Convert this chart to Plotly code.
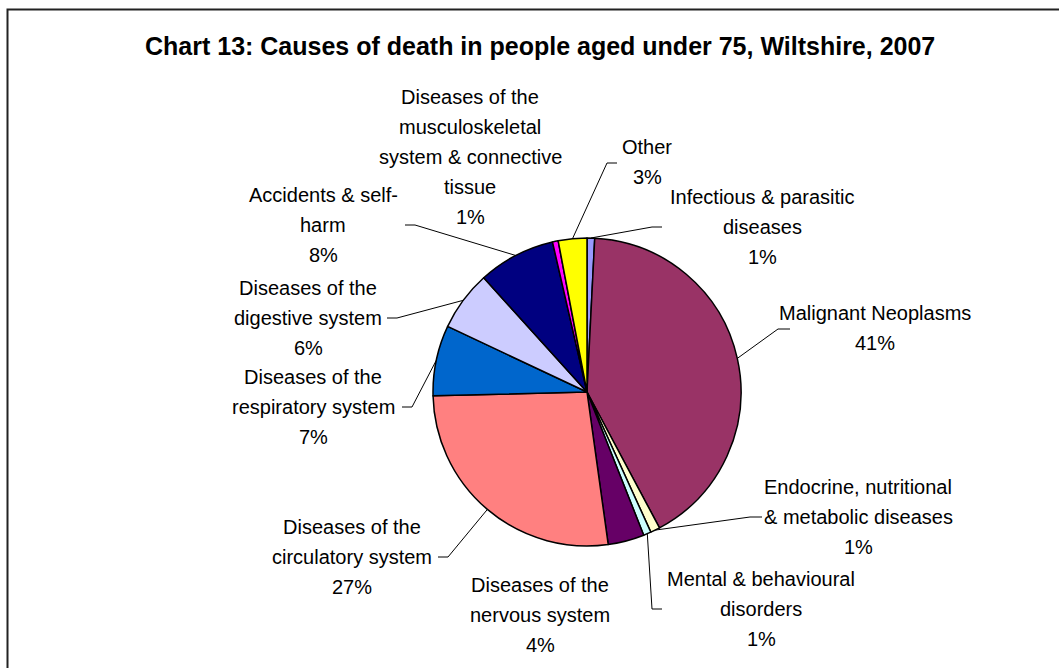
import math
import plotly.graph_objects as go

# Causes of death, people aged under 75, Wiltshire 2007 (share of deaths, %)
categories = [
    "Infectious & parasitic\ndiseases",
    "Malignant Neoplasms",
    "Endocrine, nutritional\n& metabolic diseases",
    "Mental & behavioural\ndisorders",
    "Diseases of the\nnervous system",
    "Diseases of the\ncirculatory system",
    "Diseases of the\nrespiratory system",
    "Diseases of the\ndigestive system",
    "Accidents & self-\nharm",
    "Diseases of the\nmusculoskeletal\nsystem & connective\ntissue",
    "Other",
]
shares = [0.8, 41.4, 1.0, 0.8, 3.8, 26.8, 7.4, 6.3, 8.1, 0.6, 3.0]
colors = ["#9999FF", "#993366", "#FFFFCC", "#CCFFFF", "#660066", "#FF8080",
          "#0066CC", "#CCCCFF", "#000080", "#FF00FF", "#FFFF00"]

# Label block centres (px) and leader start point + tick end (None = no leader)
label_pos = [(762, 227), (875, 328), (858, 517), (761, 609), (540, 615),
             (352, 557), (313, 407), (308, 318), (323, 225), (470, 157), (647, 162)]
leader_start = [(662, 227, 652), (790, 329, 778), (762, 517, 750), (662, 609, 652), None,
                (438, 557, 448), (402, 407, 412), (387, 318, 397), (405, 225, 415), None,
                (617, 163, 607)]

W, H = 1059, 668
CX, CY, R = 587, 392, 154
LINE_GAP = 30
FONT = "Liberation Sans, Arial, sans-serif"

fig = go.Figure()

fig.add_trace(go.Pie(
    labels=[c.replace("\n", " ") for c in categories],
    values=shares,
    sort=False,
    direction="clockwise",
    rotation=0,
    marker=dict(colors=colors, line=dict(color="black", width=1.5)),
    textinfo="none",
    hoverinfo="skip",
    showlegend=False,
    domain=dict(x=[(CX - R) / W, (CX + R) / W],
                y=[(H - CY - R) / H, (H - CY + R) / H]),
))

# invisible pixel-space axes used for labels and leader lines
fig.add_trace(go.Scatter(x=[0, W], y=[0, H], mode="markers",
                         marker=dict(opacity=0), hoverinfo="skip", showlegend=False))

total = sum(shares)
annotations = []
shapes = []
cum = 0.0
for i, (name, v) in enumerate(zip(categories, shares)):
    mid = (cum + v / 2) / total * 2 * math.pi
    cum += v
    ex = CX + R * math.sin(mid)
    ey = CY - R * math.cos(mid)
    lines = name.split("\n") + [f"{round(v / total * 100):.0f}%"]
    lx, ly = label_pos[i]
    n = len(lines)
    for k, t in enumerate(lines):
        annotations.append(dict(
            x=lx, y=ly + (k - (n - 1) / 2) * LINE_GAP, xref="x", yref="y",
            text=t, showarrow=False, xanchor="center", yanchor="middle",
            font=dict(family=FONT, size=20, color="black")))
    if leader_start[i] is not None:
        sx, sy, tx = leader_start[i]
        shapes.append(dict(
            type="path", xref="x", yref="y",
            path=f"M {sx} {sy} L {tx} {sy} L {ex:.1f} {ey:.1f}",
            line=dict(color="black", width=1), layer="above"))

# chart-area frame
shapes.append(dict(type="rect", xref="x", yref="y", x0=7.5, y0=9.5, x1=W + 20, y1=H + 20,
                   line=dict(color="#222222", width=2), fillcolor="rgba(0,0,0,0)",
                   layer="below"))

annotations.append(dict(
    x=540, y=46, xref="x", yref="y", showarrow=False,
    text="<b>Chart 13: Causes of death in people aged under 75, Wiltshire, 2007</b>",
    xanchor="center", yanchor="middle",
    font=dict(family=FONT, size=25, color="black")))

fig.update_layout(
    width=W, height=H,
    margin=dict(l=0, r=0, t=0, b=0),
    paper_bgcolor="white", plot_bgcolor="white",
    xaxis=dict(range=[0, W], visible=False, fixedrange=True),
    yaxis=dict(range=[H, 0], visible=False, fixedrange=True),
    annotations=annotations,
    shapes=shapes,
    showlegend=False,
)

fig.write_html("out.html")
